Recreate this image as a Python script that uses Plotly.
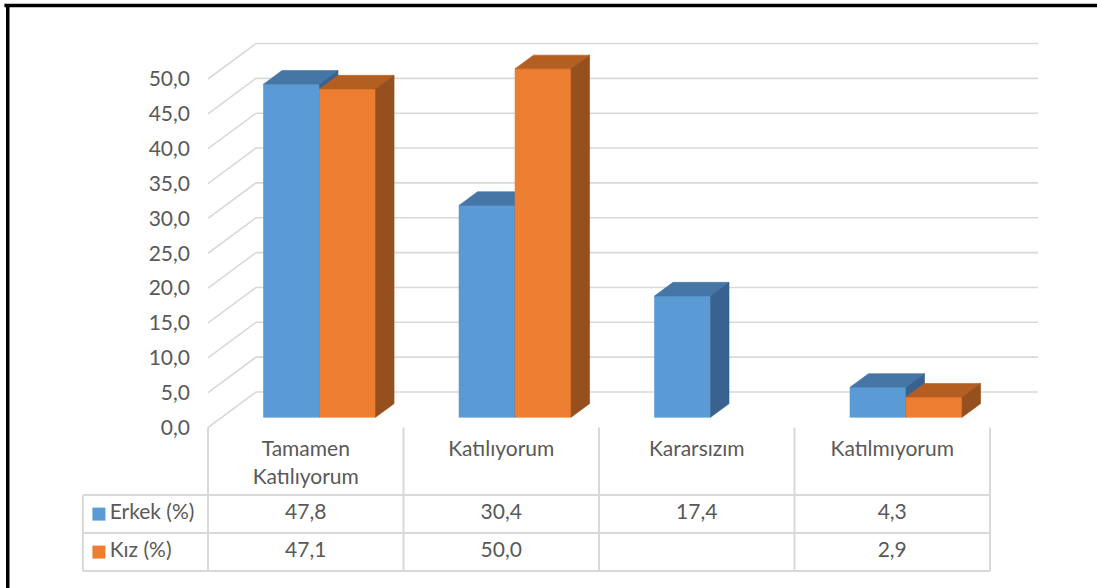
import plotly.graph_objects as go

# ---- data -------------------------------------------------------------
categories = ["Tamamen Katılıyorum", "Katılıyorum", "Kararsızım", "Katılmıyorum"]
series_names = ["Erkek (%)", "Kız (%)"]
erkek = [47.8, 30.4, 17.4, 4.3]
kiz = [47.1, 50.0, None, 2.9]
y_ticks = [0, 5, 10, 15, 20, 25, 30, 35, 40, 45, 50]

# ---- styling / geometry ----------------------------------------------
FIG_W, FIG_H = 1097, 588
FRONT_LEFT_PX = 208.0     # front-left corner of the floor
FRONT_BASE_PX = 427.5     # value 0 on the front plane
CAT_PX = 195.5            # width of one category slot
UNIT_PX = 6.97            # pixels per value unit

DEPTH_X = 48.0 / CAT_PX   # depth vector (category units)
DEPTH_Y = 35.5 / UNIT_PX  # depth vector (value units)

BAR_W = 0.2866            # bar width in category units
BAR_T0, BAR_T1 = 0.287, 0.672   # bar depth extent (fraction of depth)

FACE = {
    0: dict(front="#5B9BD5", top="#4576A6", side="#386391"),
    1: dict(front="#ED7D31", top="#B45E22", side="#96501E"),
}
GRID_COLOR = "#D9D9D9"
TEXT_COLOR = "#595959"
FONT = "Lato"
FONT_SIZE = 21

HEADER_H = 9.7            # table header height (value units)
ROW_H = 5.45              # table row height (value units)
KEY_COL_W = 0.64          # legend column width (category units)
HEADER_PAD = 1.9          # gap between table top and header text (value units)
HEADER_LINE = 4.0         # spacing between header text lines (value units)

values = [erkek, kiz]
n_cat = len(categories)


def fmt(v):
    return f"{v:.1f}".replace(".", ",")


def shift(x, y, t):
    return x + t * DEPTH_X, y + t * DEPTH_Y


fig = go.Figure()

# ---- walls: side-wall diagonals and back-wall gridlines --------------
for v in y_ticks:
    bx, by = shift(0, v, 1)
    fig.add_trace(go.Scatter(
        x=[0, bx, n_cat + DEPTH_X], y=[v, by, by],
        mode="lines", line=dict(color=GRID_COLOR, width=1.6),
        hoverinfo="skip", showlegend=False))

# ---- 3D columns -------------------------------------------------------
gap = (1 - len(values) * BAR_W) / 2
for i in range(n_cat):
    for s, series in enumerate(values):
        v = series[i]
        if v is None:
            continue
        x0 = i + gap + s * BAR_W
        x1 = x0 + BAR_W
        faces = [
            ("front", [(x0, 0, BAR_T0), (x1, 0, BAR_T0), (x1, v, BAR_T0), (x0, v, BAR_T0)]),
            ("top", [(x0, v, BAR_T0), (x1, v, BAR_T0), (x1, v, BAR_T1), (x0, v, BAR_T1)]),
            ("side", [(x1, 0, BAR_T0), (x1, 0, BAR_T1), (x1, v, BAR_T1), (x1, v, BAR_T0)]),
        ]
        for name, pts in faces:
            xs, ys = zip(*[shift(px, py, t) for px, py, t in pts])
            col = FACE[s][name]
            fig.add_trace(go.Scatter(
                x=list(xs) + [xs[0]], y=list(ys) + [ys[0]],
                mode="lines", fill="toself", fillcolor=col,
                line=dict(color=col, width=0.6),
                name=series_names[s], hoverinfo="name+text",
                text=fmt(v), showlegend=False))

# ---- data table -------------------------------------------------------
row1_top = -HEADER_H
row2_top = row1_top - ROW_H
table_bottom = row2_top - ROW_H
for i in range(n_cat + 1):
    fig.add_trace(go.Scatter(
        x=[i, i], y=[0, table_bottom], mode="lines",
        line=dict(color=GRID_COLOR, width=2), hoverinfo="skip", showlegend=False))
for yy in (row1_top, row2_top, table_bottom):
    fig.add_trace(go.Scatter(
        x=[-KEY_COL_W, n_cat], y=[yy, yy], mode="lines",
        line=dict(color=GRID_COLOR, width=2), hoverinfo="skip", showlegend=False))
fig.add_trace(go.Scatter(
    x=[-KEY_COL_W, -KEY_COL_W], y=[row1_top, table_bottom], mode="lines",
    line=dict(color=GRID_COLOR, width=2), hoverinfo="skip", showlegend=False))

# category headers (wrapped one word per line)
hx, hy, ht = [], [], []
for i, c in enumerate(categories):
    for k, word in enumerate(c.split(" ")):
        hx.append(i + 0.5)
        hy.append(-HEADER_PAD - k * HEADER_LINE)
        ht.append(word)
fig.add_trace(go.Scatter(
    x=hx, y=hy, mode="text", text=ht, textposition="bottom center",
    textfont=dict(family=FONT, size=FONT_SIZE, color=TEXT_COLOR),
    hoverinfo="skip", showlegend=False))

# series rows
row_centers = [row1_top - ROW_H / 2, row2_top - ROW_H / 2]
for s, series in enumerate(values):
    yc = row_centers[s]
    fig.add_trace(go.Scatter(
        x=[i + 0.5 for i in range(n_cat) if series[i] is not None],
        y=[yc] * sum(v is not None for v in series),
        mode="text", text=[fmt(v) for v in series if v is not None],
        textposition="middle center",
        textfont=dict(family=FONT, size=FONT_SIZE, color=TEXT_COLOR),
        hoverinfo="skip", showlegend=False))
    key_x = -KEY_COL_W + 0.082
    fig.add_trace(go.Scatter(
        x=[key_x], y=[yc], mode="markers",
        marker=dict(symbol="square", size=13, color=FACE[s]["front"],
                    line=dict(width=0)),
        hoverinfo="skip", showlegend=False))
    fig.add_trace(go.Scatter(
        x=[key_x + 0.055], y=[yc], mode="text", text=[series_names[s]],
        textposition="middle right",
        textfont=dict(family=FONT, size=FONT_SIZE, color=TEXT_COLOR),
        hoverinfo="skip", showlegend=False))

# ---- axes -------------------------------------------------------------
x_range = [(0 - FRONT_LEFT_PX) / CAT_PX, (FIG_W - FRONT_LEFT_PX) / CAT_PX]
y_range = [(FRONT_BASE_PX - FIG_H) / UNIT_PX, FRONT_BASE_PX / UNIT_PX]

fig.update_layout(
    width=FIG_W, height=FIG_H,
    margin=dict(l=0, r=0, t=0, b=0, pad=0),
    paper_bgcolor="white", plot_bgcolor="white",
    separators=", ",
    font=dict(family=FONT, size=FONT_SIZE, color=TEXT_COLOR),
    xaxis=dict(range=x_range, domain=[0, 1], visible=False, fixedrange=True),
    yaxis=dict(range=y_range, domain=[0, 1], anchor="free", position=190 / FIG_W,
               tickvals=y_ticks, tickformat=".1f", ticks="",
               showgrid=False, zeroline=False, showline=False, fixedrange=True,
               tickfont=dict(family=FONT, size=FONT_SIZE, color=TEXT_COLOR)),
    shapes=[
        dict(type="line", xref="paper", yref="paper",
             x0=0.004, x1=1, y0=1 - 5.5 / FIG_H, y1=1 - 5.5 / FIG_H,
             line=dict(color="black", width=3.5)),
        dict(type="line", xref="paper", yref="paper",
             x0=7.75 / FIG_W, x1=7.75 / FIG_W, y0=0, y1=1 - 4 / FIG_H,
             line=dict(color="black", width=3.5)),
    ],
)

fig.write_html("out.html")
